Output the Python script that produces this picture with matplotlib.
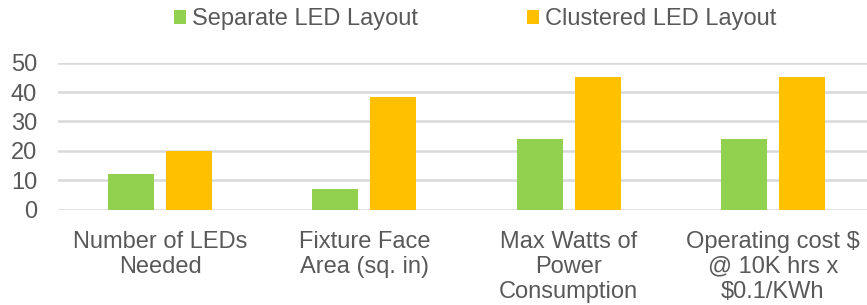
import matplotlib.pyplot as plt
import numpy as np

plt.rcParams['font.family'] = ['Liberation Sans', 'DejaVu Sans']

categories = ["Number of LEDs\nNeeded", "Fixture Face\nArea (sq. in)",
              "Max Watts of\nPower\nConsumption",
              "Operating cost \\$\n@ 10K hrs x\n\\$0.1/KWh"]
separate = [12, 7, 24, 24]
clustered = [20, 38.5, 45, 45]
series_names = ["Separate LED Layout", "Clustered LED Layout"]
yticks = [0, 10, 20, 30, 40, 50]

green = "#92D050"
orange = "#FFC000"
text_color = "#595959"

fig = plt.figure(figsize=(8.67, 3.05), dpi=100)
ax = fig.add_axes([58 / 867, 1 - 209.7 / 305, 817 / 867, 147 / 305])

x = np.arange(len(categories))
w = 0.225
ax.bar(x - 0.142, separate, w, color=green, label=series_names[0], zorder=3)
ax.bar(x + 0.142, clustered, w, color=orange, label=series_names[1], zorder=3)

ax.set_xlim(-0.5, len(categories) - 0.5)
ax.set_ylim(0, 50)
ax.set_yticks(yticks)
ax.yaxis.grid(True, color="#D9D9D9", linewidth=1.8, zorder=0)
ax.set_axisbelow(True)
for s in ax.spines.values():
    s.set_visible(False)

ax.set_xticks(x)
ax.set_xticklabels(categories, fontsize=17, color=text_color, linespacing=1.18)
ax.tick_params(axis='x', length=0, pad=15)
ax.tick_params(axis='y', length=0, pad=15, labelsize=17, labelcolor=text_color)

fig.legend(loc='center', bbox_to_anchor=(475 / 867, 1 - 19 / 305), ncol=2,
           frameon=False, fontsize=17, labelcolor=text_color,
           handlelength=0.53, handleheight=0.53, handletextpad=0.25,
           columnspacing=4.6, borderpad=0, borderaxespad=0)

fig.savefig("out.png", dpi=100)
